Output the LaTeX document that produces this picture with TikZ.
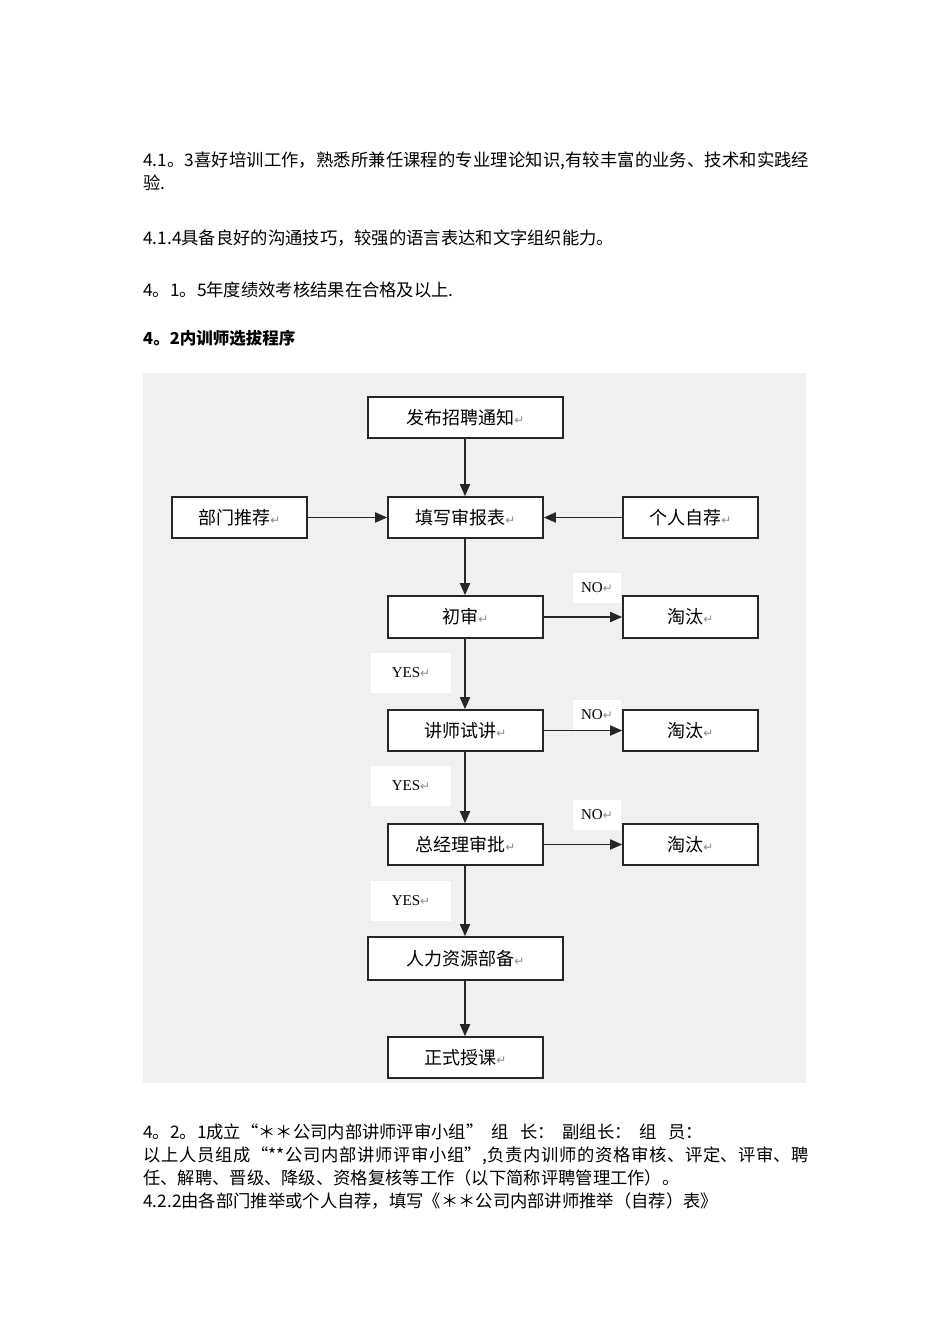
\documentclass[tikz,border=0pt]{standalone}
\usepackage{fontspec}
\setmainfont{Liberation Serif}
\newfontfamily\cjk{Noto Sans CJK SC}
\newfontfamily\dv{DejaVu Sans}
\XeTeXlinebreaklocale "zh"
\XeTeXlinebreakskip=0pt plus 1pt
\usetikzlibrary{arrows.meta}
\newcommand{\rt}{{\dv\fontsize{12}{12}\selectfont\color{black!45}↵}}
\begin{document}
\begin{tikzpicture}[x=1pt,y=-1pt,
 box/.style={draw=black!85,line width=1.6pt,fill=white,inner sep=0pt,font=\cjk\fontsize{18}{18}\selectfont},
 arr/.style={line width=1.8pt,draw=black!85,-{Triangle[length=12pt,width=10pt]}},
 lab/.style={fill=white,inner sep=0pt,minimum width=48pt,minimum height=30pt,font=\fontsize{15}{15}\selectfont},
 para/.style={anchor=west,inner sep=0pt,font=\cjk\fontsize{17.3}{23}\selectfont,text width=666pt,align=justify},
 ]
\useasboundingbox (0,0) rectangle (950,1344);
\fill[white] (0,0) rectangle (950,1344);
\node[para,anchor=north west] (t1) at (143,152) {4.1。3喜好培训工作，熟悉所兼任课程的专业理论知识,有较丰富的业务、技术和实践经验.};
\node[para] (t2) at (143,238) {4.1.4具备良好的沟通技巧，较强的语言表达和文字组织能力。};
\node[para] (t3) at (143,290) {4。1。5年度绩效考核结果在合格及以上.};
\node[para,font=\cjk\bfseries\fontsize{16.5}{20}\selectfont] (t4) at (143,338) {4。2内训师选拔程序};
\fill[black!6] (143,373) rectangle (806,1083);
\newcommand{\bx}[6]{\node[box,minimum width=#4-#2,minimum height=#5-#3] (#1) at ({(#2+#4)/2},{(#3+#5)/2}) {#6\rt};}
\bx{a}{368}{397}{563}{438}{发布招聘通知}
\bx{l}{172}{497}{307}{538}{部门推荐}
\bx{b}{388}{497}{543}{538}{填写审报表}
\bx{r}{623}{497}{758}{538}{个人自荐}
\bx{c}{388}{596}{543}{638}{初审}
\bx{e1}{623}{596}{758}{638}{淘汰}
\bx{d}{388}{710}{543}{751}{讲师试讲}
\bx{e2}{623}{710}{758}{751}{淘汰}
\bx{f}{388}{824}{543}{865}{总经理审批}
\bx{e3}{623}{824}{758}{865}{淘汰}
\bx{g}{368}{937}{563}{980}{人力资源部备}
\bx{h}{388}{1037}{543}{1078}{正式授课}
\foreach \n/\y in {1/588,2/715,3/815}{\node[lab] (no\n) at (597,\y) {NO\rt};}
\foreach \n/\y in {1/673,2/786,3/901}{\node[lab,minimum width=80pt,minimum height=40pt] (yes\n) at (411,\y) {YES\rt};}
\foreach \p/\q in {a/b,b/c,c/d,d/f,f/g,g/h}{\draw[arr] (\p.south -| 465,0) -- (\q.north -| 465,0);}
\draw[arr] (l) -- (b);
\draw[arr] (r) -- (b);
\draw[arr] (c) -- (e1);
\draw[arr] (d) -- (e2);
\draw[arr] (f) -- (e3);
\node[para,anchor=north west] (t5) at (143,1124) {4。2。1成立“＊＊公司内部讲师评审小组”\ \ 组\ \ \ 长：\ \ 副组长：\ \ 组\ \ \ 员：\\以上人员组成“**公司内部讲师评审小组”,负责内训师的资格审核、评定、评审、聘任、解聘、晋级、降级、资格复核等工作（以下简称评聘管理工作）。\\4.2.2由各部门推举或个人自荐，填写《＊＊公司内部讲师推举（自荐）表》};
\end{tikzpicture}
\end{document}
